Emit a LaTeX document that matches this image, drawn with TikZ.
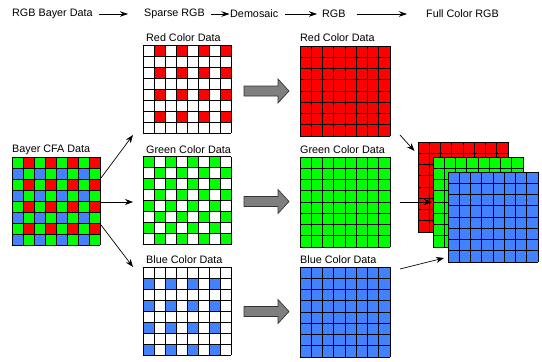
\documentclass[tikz,border=0pt]{standalone}
\usepackage{fontspec}
\setmainfont{Liberation Sans}
\usetikzlibrary{arrows.meta}
\definecolor{cR}{HTML}{FF0000}
\definecolor{cG}{HTML}{00FF00}
\definecolor{cB}{HTML}{4282FF}
\definecolor{arrgray}{HTML}{7F7F7F}
\newcommand{\glines}{\foreach \i in {0,...,8}{\draw[gl] (\i,0) -- (\i,8); \draw[gl] (0,\i) -- (8,\i);}}
\newcommand{\blockarr}[2]{\draw[blockarrow] (#1,#2-5) -- (#1+34,#2-5) -- (#1+34,#2-12) -- (#1+45,#2) -- (#1+34,#2+12) -- (#1+34,#2+5) -- (#1,#2+5) -- cycle;}
\begin{document}
\begin{tikzpicture}[x=1pt,y=-1pt,
  font=\fontsize{10.8}{12}\selectfont,
  gl/.style={black,line width=0.9pt},
  box/.style={inner sep=0pt,draw=none,anchor=north west},
  lbl/.style={inner sep=0pt,anchor=west},
  arr/.style={black,line width=0.7pt,-{Stealth[length=8pt,width=6pt]}},
  harr/.style={black,line width=0.7pt,-{Stealth[length=8pt,width=5.5pt]}},
  blockarrow/.style={fill=arrgray,draw=black!80,line width=0.7pt,line join=miter}]
\useasboundingbox (0,0) rectangle (542,362);
\fill[white] (0,0) rectangle (542,362);

% header
\node[lbl] (h1) at (12,14) {RGB Bayer Data};
\node[lbl] (h2) at (144,14) {Sparse RGB};
\node[lbl] (h3) at (230,14) {Demosaic};
\node[lbl] (h4) at (322,14) {RGB};
\node[lbl] (h5) at (426,14) {Full Color RGB};
\draw[harr] ([xshift=6pt]h1.east) -- ([xshift=-16pt]h2.west);
\draw[harr] ([xshift=6pt]h2.east) -- ([xshift=-0.5pt]h3.west);
\draw[harr] ([xshift=7pt]h3.east) -- ([xshift=-5pt]h4.west);
\draw[harr] ([xshift=11pt]h4.east) -- ([xshift=-19pt]h5.west);

% labels
\node[lbl] (lbayer) at (12,150) {Bayer CFA Data};
\node[lbl] (lrs) at (146,38) {Red Color Data};
\node[lbl] (lgs) at (146,149.5) {Green Color Data};
\node[lbl] (lbs) at (146,260) {Blue Color Data};
\node[lbl] (lrf) at (300,37.5) {Red Color Data};
\node[lbl] (lgf) at (300,149.5) {Green Color Data};
\node[lbl] (lbf) at (300,260) {Blue Color Data};

% Bayer CFA
\node[box,minimum width=88pt,minimum height=88pt] (bayer) at (12,157) {};
\begin{scope}[shift={(12,157)},x=11pt,y=-11pt]
  \fill[cG] (0,0) rectangle (8,8);
  \foreach \r in {0,2,4,6} \foreach \c in {1,3,5,7} \fill[cR] (\c,\r) rectangle (\c+1,\r+1);
  \foreach \r in {1,3,5,7} \foreach \c in {0,2,4,6} \fill[cB] (\c,\r) rectangle (\c+1,\r+1);
  \glines
\end{scope}

% sparse red
\node[box,minimum width=88pt,minimum height=88pt] (rs) at (143,45) {};
\begin{scope}[shift={(143,45)},x=11pt,y=-11pt]
  \foreach \r in {0,2,4,6} \foreach \c in {1,3,5,7} \fill[cR] (\c,\r) rectangle (\c+1,\r+1);
  \glines
\end{scope}
% sparse green
\node[box,minimum width=88pt,minimum height=88pt] (gs) at (143,156.5) {};
\begin{scope}[shift={(143,156.5)},x=11pt,y=-11pt]
  \foreach \r in {0,2,4,6} \foreach \c in {0,2,4,6} \fill[cG] (\c,\r) rectangle (\c+1,\r+1);
  \foreach \r in {1,3,5,7} \foreach \c in {1,3,5,7} \fill[cG] (\c,\r) rectangle (\c+1,\r+1);
  \glines
\end{scope}
% sparse blue
\node[box,minimum width=88pt,minimum height=88pt] (bs) at (143,267) {};
\begin{scope}[shift={(143,267)},x=11pt,y=-11pt]
  \foreach \r in {1,3,5,7} \foreach \c in {0,2,4,6} \fill[cB] (\c,\r) rectangle (\c+1,\r+1);
  \glines
\end{scope}

% block arrows
\blockarr{244}{91}
\blockarr{244}{201.5}
\blockarr{244}{311.5}

% full grids
\node[box,minimum width=90pt,minimum height=90pt] (rf) at (300,46) {};
\begin{scope}[shift={(300,46)},x=11.25pt,y=-11.25pt]
  \fill[cR] (0,0) rectangle (8,8); \glines
\end{scope}
\node[box,minimum width=90pt,minimum height=90pt] (gf) at (300,157) {};
\begin{scope}[shift={(300,157)},x=11.25pt,y=-11.25pt]
  \fill[cG] (0,0) rectangle (8,8); \glines
\end{scope}
\node[box,minimum width=90pt,minimum height=90pt] (bf) at (300,267) {};
\begin{scope}[shift={(300,267)},x=11.25pt,y=-11.25pt]
  \fill[cB] (0,0) rectangle (8,8); \glines
\end{scope}

% stack
\node[box,minimum width=90pt,minimum height=90pt] (rk) at (418,142) {};
\begin{scope}[shift={(418,142)},x=11.25pt,y=-11.25pt]
  \fill[cR] (0,0) rectangle (8,8); \glines
\end{scope}
\node[box,minimum width=90pt,minimum height=90pt] (gk) at (433,157) {};
\begin{scope}[shift={(433,157)},x=11.25pt,y=-11.25pt]
  \fill[cG] (0,0) rectangle (8,8); \glines
\end{scope}
\node[box,minimum width=90pt,minimum height=90pt] (bk) at (448,172) {};
\begin{scope}[shift={(448,172)},x=11.25pt,y=-11.25pt]
  \fill[cB] (0,0) rectangle (8,8); \glines
\end{scope}

% connectors
\coordinate (s1) at (101,178); \coordinate (e1) at (133,135);
\coordinate (s2) at (101,202); \coordinate (e2) at (133,202);
\coordinate (s3) at (101,225); \coordinate (e3) at (133,267);
\draw[arr] (s1) -- (e1);
\draw[arr] (s2) -- (e2);
\draw[arr] (s3) -- (e3);
\coordinate (t1) at (400,135); \coordinate (f1) at (414.5,151);
\coordinate (t2) at (400,202); \coordinate (f2) at (432,202);
\coordinate (t3) at (400,269); \coordinate (f3) at (444,258);
\draw[arr] (t1) -- (f1);
\draw[arr] (t2) -- (f2);
\draw[arr] (t3) -- (f3);
\end{tikzpicture}
\end{document}
